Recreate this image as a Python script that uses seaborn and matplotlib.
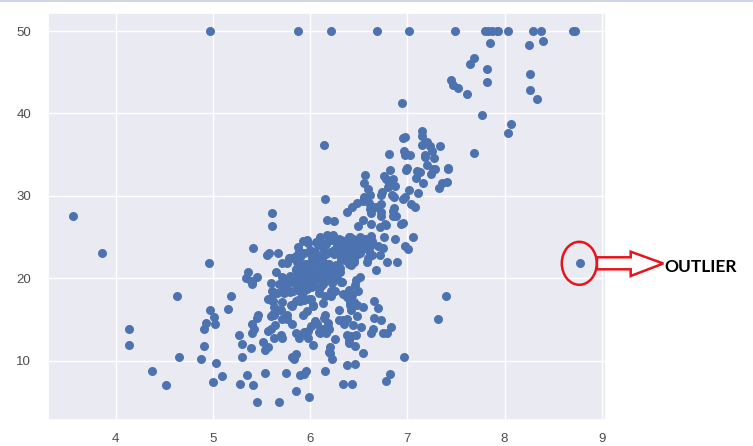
import matplotlib
matplotlib.use('Agg')
import matplotlib.pyplot as plt
import seaborn as sns
from matplotlib.patches import Ellipse, Polygon
from matplotlib.lines import Line2D

# Average rooms per dwelling (x) and median home value (y)
rm = [6.575, 6.421, 7.185, 6.998, 7.147, 6.430, 6.012, 6.172, 5.631, 6.004,
      6.377, 6.009, 5.889, 5.949, 6.096, 5.834, 5.935, 5.990, 5.456, 5.727,
      5.570, 5.965, 6.142, 5.813, 5.924, 5.599, 5.813, 6.047, 6.495, 6.674,
      5.713, 6.072, 5.950, 5.701, 6.096, 5.933, 5.841, 5.850, 5.966, 6.595,
      7.024, 6.770, 6.169, 6.211, 6.069, 5.682, 5.786, 6.030, 5.399, 5.602,
      5.963, 6.115, 6.511, 5.998, 5.888, 7.249, 6.383, 6.816, 6.145, 5.927,
      5.741, 5.966, 6.456, 6.762, 7.104, 6.290, 5.787, 5.878, 5.594, 5.885,
      6.417, 5.961, 6.065, 6.245, 6.273, 6.286, 6.279, 6.140, 6.232, 5.874,
      6.727, 6.619, 6.302, 6.167, 6.389, 6.630, 6.015, 6.121, 7.007, 7.079,
      6.417, 6.405, 6.442, 6.211, 6.249, 6.625, 6.163, 8.069, 7.820, 7.416,
      6.727, 6.781, 6.405, 6.137, 6.167, 5.851, 5.836, 6.127, 6.474, 6.229,
      6.195, 6.715, 5.913, 6.092, 6.254, 5.928, 6.176, 6.021, 5.872, 5.731,
      5.870, 6.004, 5.961, 5.856, 5.879, 5.986, 5.613, 5.693, 6.431, 5.637,
      6.458, 6.326, 6.372, 5.822, 5.757, 6.335, 5.942, 6.454, 5.857, 6.151,
      6.174, 5.019, 5.403, 5.468, 4.903, 6.130, 5.628, 4.926, 5.186, 5.597,
      6.122, 5.404, 5.012, 5.709, 6.129, 6.152, 5.272, 6.943, 6.066, 6.510,
      6.250, 7.489, 7.802, 8.375, 5.854, 6.101, 7.929, 5.877, 6.319, 6.402,
      5.875, 5.880, 5.572, 6.416, 5.859, 6.546, 6.020, 6.315, 6.860, 6.980,
      7.765, 6.144, 7.155, 6.563, 5.604, 6.153, 7.831, 6.782, 6.556, 7.185,
      6.951, 6.739, 7.178, 6.800, 6.604, 7.875, 7.287, 7.107, 7.274, 6.975,
      7.135, 6.162, 7.610, 7.853, 8.034, 5.891, 6.326, 5.783, 6.064, 5.344,
      5.960, 5.404, 5.807, 6.375, 5.412, 6.182, 5.888, 6.642, 5.951, 6.373,
      6.951, 6.164, 6.879, 6.618, 8.266, 8.725, 8.040, 7.163, 7.686, 6.552,
      5.981, 7.412, 8.337, 8.247, 6.726, 6.086, 6.631, 7.358, 6.481, 6.606,
      6.897, 6.095, 6.358, 6.393, 5.593, 5.605, 6.108, 6.226, 6.433, 6.718,
      6.487, 6.438, 6.957, 8.259, 6.108, 5.876, 7.454, 8.704, 7.333, 6.842,
      7.203, 7.520, 8.398, 7.327, 7.206, 5.560, 7.014, 8.297, 7.470, 5.920,
      5.856, 6.240, 6.538, 7.691, 6.758, 6.854, 7.267, 6.826, 6.482, 6.812,
      7.820, 6.968, 7.645, 7.923, 7.088, 6.453, 6.230, 6.209, 6.315, 6.565,
      6.861, 7.148, 6.630, 6.127, 6.009, 6.678, 6.549, 5.790, 6.345, 7.041,
      6.871, 6.590, 6.495, 6.982, 7.236, 6.616, 7.420, 6.849, 6.635, 5.972,
      4.973, 6.122, 6.023, 6.266, 6.567, 5.705, 5.914, 5.782, 6.382, 6.113,
      6.426, 6.376, 6.041, 5.708, 6.415, 6.431, 6.312, 6.083, 5.868, 6.333,
      6.144, 5.706, 6.031, 6.316, 6.310, 6.037, 5.869, 5.895, 6.059, 5.985,
      5.968, 7.241, 6.540, 6.696, 6.874, 6.014, 5.898, 6.516, 6.635, 6.939,
      6.490, 6.579, 5.884, 6.728, 5.663, 5.936, 6.212, 6.395, 6.127, 6.112,
      6.398, 6.251, 5.362, 5.803, 8.780, 3.561, 4.963, 3.863, 4.970, 6.683,
      7.016, 6.216, 5.875, 4.906, 4.138, 7.313, 6.649, 6.794, 6.380, 6.223,
      6.968, 6.545, 5.536, 5.520, 4.368, 5.277, 4.652, 5.000, 4.880, 5.390,
      5.713, 6.051, 5.036, 6.193, 5.887, 6.471, 6.405, 5.747, 5.453, 5.852,
      5.987, 6.343, 6.404, 5.349, 5.531, 5.683, 4.138, 5.608, 5.617, 6.852,
      5.757, 6.657, 4.628, 5.155, 4.519, 6.434, 6.782, 5.304, 5.957, 6.824,
      6.411, 6.006, 5.648, 6.103, 5.565, 5.896, 5.837, 6.202, 6.193, 6.380,
      6.348, 6.833, 6.425, 6.436, 6.208, 6.629, 6.461, 6.152, 5.935, 5.627,
      5.818, 6.406, 6.219, 6.485, 5.854, 6.459, 6.341, 6.251, 6.185, 6.417,
      6.749, 6.655, 6.297, 7.393, 6.728, 6.525, 5.976, 5.936, 6.301, 6.081,
      6.701, 6.376, 6.317, 6.513, 6.209, 5.759, 5.952, 6.003, 5.926, 5.713,
      6.167, 6.229, 6.437, 6.980, 5.427, 6.162, 6.484, 5.304, 6.185, 6.229,
      6.242, 6.750, 7.061, 5.762, 5.871, 6.312, 6.114, 5.905, 5.454, 5.414,
      5.093, 5.983, 5.983, 5.707, 5.926, 5.670, 5.390, 5.794, 6.019, 5.569,
      6.027, 6.593, 6.120, 6.976, 6.794, 6.030]

medv = [24.0, 21.6, 34.7, 33.4, 36.2, 28.7, 22.9, 27.1, 16.5, 18.9,
        15.0, 18.9, 21.7, 20.4, 18.2, 19.9, 23.1, 17.5, 20.2, 18.2,
        13.6, 19.6, 15.2, 14.5, 15.6, 13.9, 16.6, 14.8, 18.4, 21.0,
        12.7, 14.5, 13.2, 13.1, 13.5, 18.9, 20.0, 21.0, 24.7, 30.8,
        34.9, 26.6, 25.3, 24.7, 21.2, 19.3, 20.0, 16.6, 14.4, 19.4,
        19.7, 20.5, 25.0, 23.4, 18.9, 35.4, 24.7, 31.6, 23.3, 19.6,
        18.7, 16.0, 22.2, 25.0, 33.0, 23.5, 19.4, 22.0, 17.4, 20.9,
        24.2, 21.7, 22.8, 23.4, 24.1, 21.4, 20.0, 20.8, 21.2, 20.3,
        28.0, 23.9, 24.8, 22.9, 23.9, 26.6, 22.5, 22.2, 23.6, 28.7,
        22.6, 22.0, 22.9, 25.0, 20.6, 28.4, 21.4, 38.7, 43.8, 33.2,
        27.5, 26.5, 18.6, 19.3, 20.1, 19.5, 19.5, 20.4, 19.8, 19.4,
        21.7, 22.8, 18.8, 18.7, 18.5, 18.3, 21.2, 19.2, 20.4, 19.3,
        22.0, 20.3, 20.5, 17.3, 18.8, 21.4, 15.7, 16.2, 18.0, 14.3,
        19.2, 19.6, 23.0, 18.4, 15.6, 18.1, 17.4, 17.1, 13.3, 17.8,
        14.0, 14.4, 13.4, 15.6, 11.8, 13.8, 15.6, 14.6, 17.8, 15.4,
        21.5, 19.6, 15.3, 19.4, 17.0, 15.6, 13.1, 41.3, 24.3, 23.3,
        27.0, 50.0, 50.0, 50.0, 22.7, 25.0, 50.0, 23.8, 23.8, 22.3,
        17.4, 19.1, 23.1, 23.6, 22.6, 29.4, 23.2, 24.6, 29.9, 37.2,
        39.8, 36.2, 37.9, 32.5, 26.4, 29.6, 50.0, 32.0, 29.8, 34.9,
        37.0, 30.5, 36.4, 31.1, 29.1, 50.0, 33.3, 30.3, 34.6, 34.9,
        32.9, 24.1, 42.3, 48.5, 50.0, 22.6, 24.4, 22.5, 24.4, 20.0,
        21.7, 19.3, 22.4, 28.1, 23.7, 25.0, 23.3, 28.7, 21.5, 23.0,
        26.7, 21.7, 27.5, 30.1, 44.8, 50.0, 37.6, 31.6, 46.7, 31.5,
        24.3, 31.7, 41.7, 48.3, 29.0, 24.0, 25.1, 31.5, 23.7, 23.3,
        22.0, 20.1, 22.2, 23.7, 17.6, 18.5, 24.3, 20.5, 24.5, 26.2,
        24.4, 24.8, 29.6, 42.8, 21.9, 20.9, 44.0, 50.0, 36.0, 30.1,
        33.8, 43.1, 48.8, 31.0, 36.5, 22.8, 30.7, 50.0, 43.5, 20.7,
        21.1, 25.2, 24.4, 35.2, 32.4, 32.0, 33.2, 33.1, 29.1, 35.1,
        45.4, 35.4, 46.0, 50.0, 32.2, 22.0, 20.1, 23.2, 22.3, 24.8,
        28.5, 37.3, 27.9, 23.9, 21.7, 28.6, 27.1, 20.3, 22.5, 29.0,
        24.8, 22.0, 26.4, 33.1, 36.1, 28.4, 33.4, 28.2, 22.8, 20.3,
        16.1, 22.1, 19.4, 21.6, 23.8, 16.2, 17.8, 19.8, 23.1, 21.0,
        23.8, 23.1, 20.4, 18.5, 25.0, 24.6, 23.0, 22.2, 19.3, 22.6,
        19.8, 17.1, 19.4, 22.2, 20.7, 21.1, 19.5, 18.5, 20.6, 19.0,
        18.7, 32.7, 16.5, 23.9, 31.2, 17.5, 17.2, 23.1, 24.5, 26.6,
        22.9, 24.1, 18.6, 30.1, 18.2, 20.6, 17.8, 21.7, 22.7, 22.6,
        25.0, 19.9, 20.8, 16.8, 21.9, 27.5, 21.9, 23.1, 50.0, 50.0,
        50.0, 50.0, 50.0, 13.8, 13.8, 15.0, 13.9, 13.3, 13.1, 10.2,
        10.4, 10.9, 11.3, 12.3, 8.8, 7.2, 10.5, 7.4, 10.2, 11.5,
        15.1, 23.2, 9.7, 13.8, 12.7, 13.1, 12.5, 8.5, 5.0, 6.3,
        5.6, 7.2, 12.1, 8.3, 8.5, 5.0, 11.9, 27.9, 17.2, 27.5,
        15.0, 17.2, 17.9, 16.3, 7.0, 7.2, 7.5, 10.4, 8.8, 8.4,
        16.7, 14.2, 20.8, 13.4, 11.7, 8.3, 10.2, 10.9, 11.0, 9.5,
        14.5, 14.1, 16.1, 14.3, 11.7, 13.4, 9.6, 8.7, 8.4, 12.8,
        10.5, 17.1, 18.4, 15.4, 10.8, 11.8, 14.9, 12.6, 14.1, 13.0,
        13.4, 15.2, 16.1, 17.8, 14.9, 14.1, 12.7, 13.5, 14.9, 20.0,
        16.4, 17.7, 19.5, 20.2, 21.4, 19.9, 19.0, 19.1, 19.1, 20.1,
        19.9, 19.6, 23.2, 29.8, 13.8, 13.3, 16.7, 12.0, 14.6, 21.4,
        23.0, 23.7, 25.0, 21.8, 20.6, 21.2, 19.1, 20.6, 15.2, 7.0,
        8.1, 13.6, 20.1, 21.8, 24.5, 23.1, 19.7, 18.3, 21.2, 17.5,
        16.8, 22.4, 20.6, 23.9, 22.0, 11.9]

x_ticks = [4, 5, 6, 7, 8, 9]
y_ticks = [10, 20, 30, 40, 50]
note_text = 'OUTLIER'

sns.set_theme(style='darkgrid')
plt.rcParams['font.family'] = ['Liberation Sans', 'DejaVu Sans']

W, H = 753, 446
fig = plt.figure(figsize=(W / 100, H / 100), dpi=100)
ax = fig.add_axes([47.7 / W, 1 - 420.4 / H, 558 / W, 407.9 / H])

sns.scatterplot(x=rm, y=medv, ax=ax, s=42, color='#4c72b0', linewidth=0, alpha=1)

ax.set_xticks(x_ticks)
ax.set_yticks(y_ticks)
ax.tick_params(axis='both', labelsize=9.5, labelcolor='0.3', length=0)
ax.tick_params(axis='y', pad=12)
ax.tick_params(axis='x', pad=9)


def px(x, y):
    # pixel position -> figure fraction
    return (x / W, 1 - y / H)


# thin screenshot border along the top
fig.add_artist(Line2D([0, 1], [1 - 0.6 / H] * 2, transform=fig.transFigure,
                      color='#c5cfe2', linewidth=1.2))

# hand-drawn style annotation: ellipse, hollow arrow and label
red = '#e8141c'
fig.add_artist(Ellipse(px(579.3, 263.3), 35 / W, 43 / H, transform=fig.transFigure,
                       fill=False, edgecolor=red, linewidth=1.8))
arrow_pts = [(597, 257.3), (630.7, 257.3), (630.7, 251.7), (663.3, 263.5),
             (630.7, 276), (630.7, 269.3), (597, 269.3)]
fig.add_artist(Polygon([px(a, b) for a, b in arrow_pts], closed=True,
                       transform=fig.transFigure, facecolor='white',
                       edgecolor=red, linewidth=1.8))
fig.text(*px(664, 267.5), note_text, ha='left', va='center', fontsize=12.5,
         fontweight='bold', color='black', family=['Lato', 'DejaVu Sans'])

fig.savefig('out.png', dpi=100, facecolor='white')
